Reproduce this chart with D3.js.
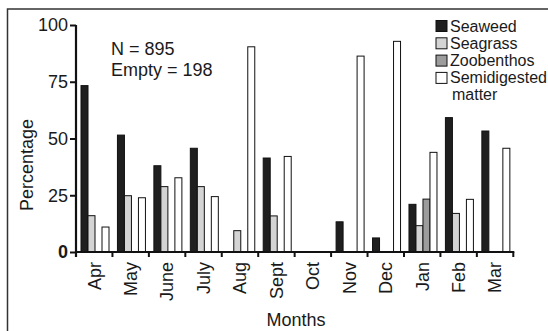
<!DOCTYPE html>
<html>
<head>
<meta charset="utf-8">
<script src="https://cdn.jsdelivr.net/npm/d3@7"></script>
<style>
  body { margin: 0; background: #fff; }
  svg { font-family: "Liberation Sans", Arial, sans-serif; }
  .label { font-size: 18px; fill: #1a1a1a; }
  .legend text { font-size: 16px; fill: #1a1a1a; }
</style>
</head>
<body>
<svg width="548" height="331"></svg>
<script>
// data
var months = ['Apr', 'May', 'June', 'July', 'Aug', 'Sept', 'Oct', 'Nov', 'Dec', 'Jan', 'Feb', 'Mar'];
var seriesNames = ['Seaweed', 'Seagrass', 'Zoobenthos', 'Semidigested matter'];
var seaweed      = [73.3, 51.5, 38.0, 45.7, 0, 41.4, 0, 13.3, 6.2, 21.0, 59.2, 53.3];
var seagrass     = [16.0, 24.8, 28.8, 28.8, 9.4, 15.9, 0, 0, 0, 11.6, 17.0, 0];
var zoobenthos   = [0, 0, 0, 0, 0, 0, 0, 0, 0, 23.3, 0, 0];
var semidigested = [11.0, 23.9, 32.7, 24.4, 90.4, 42.1, 0, 86.3, 92.8, 43.9, 23.2, 45.7];
var yTicks = [0, 25, 50, 75, 100];
var notes = ['N = 895', 'Empty = 198'];

var seriesValues = [seaweed, seagrass, zoobenthos, semidigested];
var fills = ['#1f1f1f', '#d4d4d4', '#9c9c9c', '#ffffff'];

var svg = d3.select('svg');

// outer frame
svg.append('rect')
    .attr('x', 7.5).attr('y', 9)
    .attr('width', 560).attr('height', 340)
    .attr('fill', 'none')
    .attr('stroke', '#333')
    .attr('stroke-width', 1.5);

var xScale = d3.scaleBand().domain(months).range([76, 513.3]);
var innerScale = d3.scaleBand().domain(seriesNames).range([5, 33]);
var yScale = d3.scaleLinear().domain([0, 100]).range([252, 25]);

// bars
var cells = [];
months.forEach(function(m, i) {
    seriesNames.forEach(function(s, j) {
        if (seriesValues[j][i] > 0) {
            cells.push({ month: m, series: s, idx: j, value: seriesValues[j][i] });
        }
    });
});

svg.append('g').selectAll('rect')
    .data(cells)
    .enter()
    .append('rect')
    .attr('x', function(d) { return xScale(d.month) + innerScale(d.series); })
    .attr('y', function(d) { return yScale(d.value); })
    .attr('width', innerScale.bandwidth())
    .attr('height', function(d) { return yScale(0) - yScale(d.value); })
    .attr('fill', function(d) { return fills[d.idx]; })
    .attr('stroke', '#111')
    .attr('stroke-width', 1);

// y axis
var yAxis = svg.append('g')
    .attr('transform', 'translate(76,0)')
    .call(d3.axisLeft(yScale).tickValues(yTicks).tickSize(6).tickPadding(2));
yAxis.select('.domain').attr('stroke', '#111').attr('stroke-width', 2.2)
    .attr('d', 'M0,' + yScale(100) + 'V257');
yAxis.selectAll('.tick line').attr('stroke', '#111').attr('stroke-width', 2);
yAxis.selectAll('.tick text')
    .attr('font-size', 18)
    .attr('font-family', '"Liberation Sans", Arial, sans-serif')
    .attr('fill', '#1a1a1a')
    .attr('font-weight', function(d) { return d === 0 ? 'bold' : 'normal'; });

// x axis: line plus ticks at band edges
var xAxis = svg.append('g');
xAxis.append('line')
    .attr('x1', 76).attr('x2', xScale.range()[1] + 1)
    .attr('y1', yScale(0)).attr('y2', yScale(0))
    .attr('stroke', '#111').attr('stroke-width', 2.2);
xAxis.selectAll('.edge')
    .data(months)
    .enter()
    .append('line')
    .attr('class', 'edge')
    .attr('x1', function(d) { return xScale(d) + xScale.bandwidth(); })
    .attr('x2', function(d) { return xScale(d) + xScale.bandwidth(); })
    .attr('y1', yScale(0)).attr('y2', yScale(0) + 5)
    .attr('stroke', '#111').attr('stroke-width', 2);

xAxis.selectAll('.month')
    .data(months)
    .enter()
    .append('text')
    .attr('class', 'label')
    .attr('font-size', 19)
    .attr('text-anchor', 'end')
    .attr('dy', '0.35em')
    .attr('transform', function(d) { return 'translate(' + (xScale(d) + xScale.bandwidth() / 2) + ',262) rotate(-90)'; })
    .text(function(d) { return d; });

// axis titles
svg.append('text')
    .attr('class', 'label')
    .attr('text-anchor', 'middle')
    .attr('transform', 'translate(296,326)')
    .text('Months');

svg.append('text')
    .attr('class', 'label')
    .attr('text-anchor', 'middle')
    .attr('transform', 'translate(33,165) rotate(-90)')
    .text('Percentage');

// N / Empty notes
svg.selectAll('.note')
    .data(notes)
    .enter()
    .append('text')
    .attr('class', 'label note')
    .attr('x', 111)
    .attr('y', function(d, i) { return 55 + i * 20.5; })
    .text(function(d) { return d; });

// legend
var legend = svg.append('g').attr('class', 'legend');
var legendRows = legend.selectAll('g')
    .data(seriesNames)
    .enter()
    .append('g')
    .attr('transform', function(d, i) { return 'translate(436,' + (31.5 + i * 17.3) + ')'; });

legendRows.append('rect')
    .attr('x', 0).attr('y', -11)
    .attr('width', 11).attr('height', 11)
    .attr('fill', function(d, i) { return fills[i]; })
    .attr('stroke', '#111').attr('stroke-width', 1);

legendRows.append('text')
    .attr('x', 14)
    .text(function(d) { return d === 'Semidigested matter' ? 'Semidigested' : d; });

legendRows.filter(function(d) { return d === 'Semidigested matter'; })
    .append('text')
    .attr('x', 16)
    .attr('y', 17)
    .text('matter');
</script>
</body>
</html>
